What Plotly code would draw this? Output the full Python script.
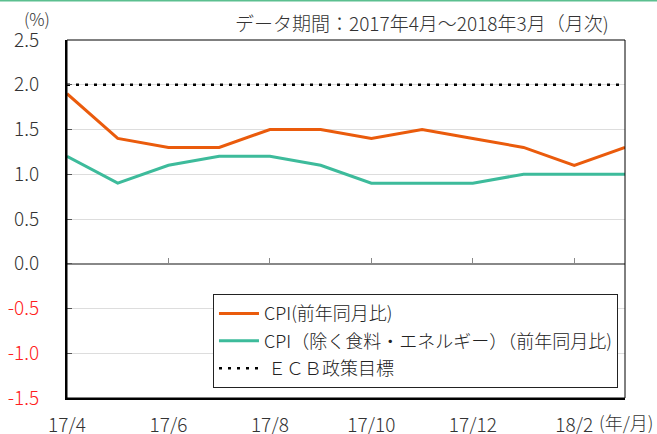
import plotly.graph_objects as go

months = ["17/4", "17/5", "17/6", "17/7", "17/8", "17/9", "17/10", "17/11", "17/12", "18/1", "18/2", "18/3"]
cpi = [1.9, 1.4, 1.3, 1.3, 1.5, 1.5, 1.4, 1.5, 1.4, 1.3, 1.1, 1.3]
core_cpi = [1.2, 0.9, 1.1, 1.2, 1.2, 1.1, 0.9, 0.9, 0.9, 1.0, 1.0, 1.0]
ecb_target = [2.0] * 12
x_tick_labels = ["17/4", "17/6", "17/8", "17/10", "17/12", "18/2"]
y_tick_vals = [2.5, 2.0, 1.5, 1.0, 0.5, 0.0, -0.5, -1.0, -1.5]
y_tick_labels = ["2.5", "2.0", "1.5", "1.0", "0.5", "0.0", "-0.5", "-1.0", "-1.5"]

names = ["CPI(前年同月比)", "CPI（除く食料・エネルギー）（前年同月比)", " ＥＣＢ政策目標"]

xi = list(range(len(months)))
tickpos = [months.index(m) for m in x_tick_labels]

ORANGE = "#EA5B0C"
TEAL = "#3DBB9B"
FONT = "Noto Sans CJK JP"
TXT = "#333333"

fig = go.Figure()
fig.add_trace(go.Scatter(x=xi, y=cpi, mode="lines", name=names[0], legendgroup="a",
                         line=dict(color=ORANGE, width=3)))
fig.add_trace(go.Scatter(x=xi, y=core_cpi, mode="lines", name=names[1], legendgroup="b",
                         line=dict(color=TEAL, width=3)))
fig.add_trace(go.Scatter(x=xi, y=ecb_target, mode="lines", name=names[2], legendgroup="c",
                         line=dict(color="black", width=2.5, dash="3px,6px")))
# invisible helper trace for the tick axis on the zero line
fig.add_trace(go.Scatter(x=xi, y=ecb_target, mode="lines", xaxis="x2", showlegend=False,
                         hoverinfo="skip", opacity=0, line=dict(width=0)))

yt = [f'<span style="color:#FF2020">{t}</span>' if v < 0 else t for v, t in zip(y_tick_vals, y_tick_labels)]

fig.update_layout(
    width=657, height=434,
    margin=dict(l=67, r=32, t=40, b=36),
    paper_bgcolor="white", plot_bgcolor="white",
    font=dict(family=FONT, size=18, color=TXT, weight=300),
    showlegend=True,
    legend=dict(x=0.2616, y=0.29, xanchor="left", yanchor="top",
                bgcolor="white", bordercolor="#222222", borderwidth=1,
                font=dict(size=18, color="#222222", weight=300), itemwidth=40,
                traceorder="grouped", tracegroupgap=1),
    xaxis=dict(range=[0, 11], tickvals=tickpos, ticktext=x_tick_labels,
               showgrid=False, zeroline=False, ticks="", showline=True,
               linecolor="black", linewidth=2, ticklabelstandoff=9, automargin=False,
               tickfont=dict(size=19, color=TXT, weight=300)),
    xaxis2=dict(range=[0, 11], overlaying="x", anchor="free", position=0.375, side="bottom",
                tickvals=tickpos, ticks="inside", ticklen=6, tickcolor="#888888", tickwidth=1,
                showticklabels=False, showgrid=False, zeroline=False, showline=False,
                automargin=False),
    yaxis=dict(range=[-1.5, 2.5], tickvals=y_tick_vals, ticktext=yt,
               showgrid=True, gridcolor="#DDDDDD", gridwidth=1,
               zeroline=True, zerolinecolor="#888888", zerolinewidth=2,
               showline=True, linecolor="black", linewidth=2,
               ticks="inside", ticklen=5, tickcolor="#555555", automargin=False,
               ticklabelstandoff=22, tickfont=dict(size=19, color=TXT, weight=300)),
)

fig.add_shape(type="rect", xref="paper", yref="paper", x0=0, x1=1, y0=0, y1=1,
              line=dict(color="black", width=1), layer="above")
fig.add_shape(type="line", xref="paper", yref="paper", x0=-0.2, x1=1.1, y0=1.11, y1=1.11,
              line=dict(color="#5BBF8F", width=2))

fig.add_annotation(text="データ期間：2017年4月～2018年3月（月次)", xref="paper", yref="paper",
                   x=0.975, y=1.050, xanchor="right", yanchor="middle", showarrow=False,
                   font=dict(size=19, color=TXT, weight=300))
fig.add_annotation(text="(%)", xref="paper", yref="paper",
                   x=-0.054, y=1.061, xanchor="center", yanchor="middle", showarrow=False,
                   font=dict(size=17, color=TXT, weight=300))
fig.add_annotation(text="(年/月)", xref="paper", yref="paper",
                   x=0.949, y=-0.067, xanchor="left", yanchor="middle", showarrow=False,
                   font=dict(size=18, color=TXT, weight=300))

fig.write_html("out.html", config={"displayModeBar": False},
               post_script="document.body.style.margin='0';document.body.style.overflow='hidden';")
